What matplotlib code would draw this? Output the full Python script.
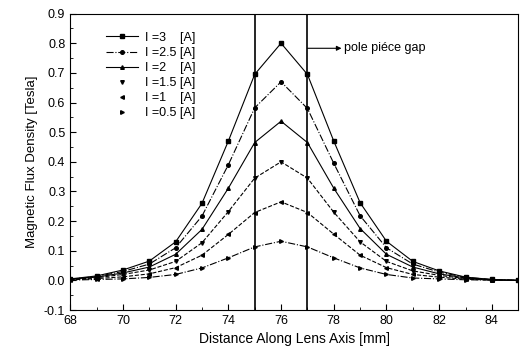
import numpy as np
import matplotlib
matplotlib.use('Agg')
import matplotlib.pyplot as plt
from matplotlib.lines import Line2D

plt.rcParams['font.family'] = ['Liberation Sans', 'DejaVu Sans']

# distance along lens axis [mm]
distance = [68, 69, 70, 71, 72, 73, 74, 75, 76, 77, 78, 79, 80, 81, 82, 83, 84, 85]

b_3a = [0.005, 0.015, 0.035, 0.065, 0.13, 0.26, 0.47, 0.695, 0.80, 0.695, 0.47, 0.262, 0.132, 0.064, 0.032, 0.011, 0.003, 0.0]
b_25a = [0.004, 0.013, 0.030, 0.055, 0.11, 0.217, 0.39, 0.582, 0.67, 0.58, 0.395, 0.218, 0.11, 0.055, 0.028, 0.010, 0.003, 0.0]
b_2a = [0.004, 0.011, 0.025, 0.045, 0.088, 0.172, 0.311, 0.465, 0.537, 0.465, 0.311, 0.175, 0.088, 0.045, 0.022, 0.008, 0.002, 0.0]
b_15a = [0.003, 0.009, 0.020, 0.035, 0.064, 0.127, 0.232, 0.345, 0.40, 0.345, 0.23, 0.13, 0.064, 0.032, 0.017, 0.006, 0.002, 0.0]
b_1a = [0.002, 0.006, 0.012, 0.022, 0.043, 0.085, 0.155, 0.229, 0.265, 0.229, 0.156, 0.085, 0.043, 0.020, 0.011, 0.004, 0.001, 0.0]
b_05a = [0.001, 0.003, 0.005, 0.010, 0.020, 0.042, 0.076, 0.113, 0.132, 0.113, 0.076, 0.042, 0.020, 0.008, 0.005, 0.002, 0.001, 0.0]

labels = ['I =3    [A]', 'I =2.5 [A]', 'I =2    [A]', 'I =1.5 [A]', 'I =1    [A]', 'I =0.5 [A]']
series = [b_3a, b_25a, b_2a, b_15a, b_1a, b_05a]
markers = ['s', 'o', '^', 'v', '<', '>']
styles = ['-', '-.', '-', '--', '--', '-.']
show_line = [True, True, True, False, False, False]

fig = plt.figure(figsize=(5.24, 3.58), dpi=100)
ax = fig.add_axes([0.134, 0.134, 0.855, 0.828])

handles = []
for vals, lab, m, ls, sl in zip(series, labels, markers, styles, show_line):
    ax.plot(distance, vals, color='black', linestyle=ls, linewidth=0.8,
            marker=m, markersize=2.6)
    handles.append(Line2D([], [], color='black', linestyle=ls if sl else 'none',
                          linewidth=0.8, marker=m, markersize=2.6, label=lab))

ax.axvline(75, color='black', linewidth=1.2)
ax.axvline(77, color='black', linewidth=1.2)

ax.annotate('pole piéce gap', xy=(77, 0.783), xytext=(78.4, 0.783),
            fontsize=9, va='center',
            arrowprops=dict(arrowstyle='<|-', color='black', lw=0.8,
                            shrinkA=0, shrinkB=0, mutation_scale=7))

ax.set_xlim(68, 85)
ax.set_ylim(-0.1, 0.9)
ax.set_xticks(np.arange(68, 85, 2))
ax.set_xticks(np.arange(68, 86, 1), minor=True)
ax.set_yticks(np.arange(-0.1, 0.91, 0.1))
ax.set_yticks(np.arange(-0.1, 0.91, 0.05), minor=True)
ax.yaxis.set_major_formatter(plt.FormatStrFormatter('%.1f'))
ax.tick_params(direction='in', labelsize=9, length=4)
ax.tick_params(which='minor', direction='in', length=2)

ax.set_xlabel('Distance Along Lens Axis [mm]', fontsize=10)
ax.set_ylabel('Magnetic Flux Density [Tesla]', fontsize=9.5)

ax.legend(handles=handles, loc='upper left', bbox_to_anchor=(0.06, 0.968),
          frameon=False, fontsize=9, handlelength=2.6, labelspacing=0.25,
          borderpad=0.2, handletextpad=0.5)

plt.savefig('out.png', dpi=100)
plt.close()
